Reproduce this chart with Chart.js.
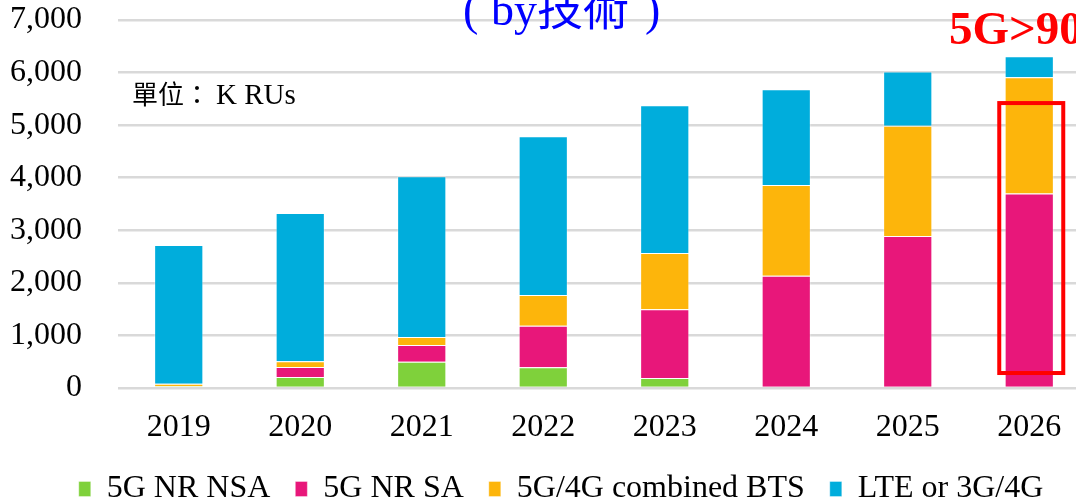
<!DOCTYPE html>
<html>
<head>
<meta charset="utf-8">
<script src="https://cdn.jsdelivr.net/npm/chart.js@4/dist/chart.umd.min.js"></script>
<style>
  html, body { margin: 0; padding: 0; background: #fff; overflow: hidden; }
  #wrap { width: 1090px; height: 500px; }
</style>
</head>
<body>
<div id="wrap"><canvas id="chart"></canvas></div>
<script>
const years = ['2019', '2020', '2021', '2022', '2023', '2024', '2025', '2026'];
const nrNsa = [35, 210, 500, 395, 190, 0, 0, 0];
const nrSa = [0, 190, 320, 790, 1310, 2135, 2890, 3700];
const combinedBts = [45, 110, 150, 585, 1070, 1725, 2100, 2210];
const lteOr3g4g = [2640, 2820, 3060, 3020, 2810, 1825, 1030, 400];
const yTicks = [0, 1000, 2000, 3000, 4000, 5000, 6000, 7000];

const serif = '"Liberation Serif", "Times New Roman", "Noto Sans CJK TC", serif';

// texts and red box on top of the chart
const notes = {
  id: 'notes',
  afterLayout(chart) {
    // legend in the original sits a bit right of centre
    chart.legend.left += 16;
    chart.legend.right += 16;
  },
  afterDraw(chart) {
    const ctx = chart.ctx;
    const x = chart.scales.x;
    const y = chart.scales.y;
    ctx.save();
    ctx.textBaseline = 'alphabetic';
    ctx.textAlign = 'left';

    ctx.fillStyle = '#0000ff';
    ctx.font = '46px ' + serif;
    ctx.fillText('(', 463, 25);
    ctx.fillText('by技術', 491, 25);
    ctx.fillText(')', 645, 25);

    ctx.fillStyle = '#ff0000';
    ctx.font = 'bold 47px ' + serif;
    ctx.fillText('5G>90%', 949, 44);

    ctx.fillStyle = '#000';
    ctx.font = '26px ' + serif;
    ctx.fillText('單位：', 132, 104);
    ctx.font = '29px ' + serif;
    ctx.fillText('K RUs', 216, 104);

    const cx = x.getPixelForValue(7);
    const top = y.getPixelForValue(5420);
    const bot = y.getPixelForValue(285);
    ctx.strokeStyle = '#ff0000';
    ctx.lineWidth = 4;
    ctx.strokeRect(cx - 30, top, 64, bot - top);
    ctx.restore();
  }
};

const edge = 'rgba(255,255,255,0.35)';

new Chart(document.getElementById('chart'), {
  type: 'bar',
  data: {
    labels: years,
    datasets: [
      { label: '5G NR NSA', data: nrNsa, backgroundColor: '#7fd13b', borderColor: edge, borderWidth: 1 },
      { label: '5G NR SA', data: nrSa, backgroundColor: '#e8177a', borderColor: edge, borderWidth: 1 },
      { label: '5G/4G combined BTS', data: combinedBts, backgroundColor: '#fdb50b', borderColor: edge, borderWidth: 1 },
      { label: 'LTE or 3G/4G', data: lteOr3g4g, backgroundColor: '#00addc', borderColor: edge, borderWidth: 1 }
    ]
  },
  options: {
    responsive: true,
    maintainAspectRatio: false,
    animation: false,
    layout: { padding: { left: 0, right: 0, top: 20, bottom: -15 } },
    datasets: { bar: { categoryPercentage: 1, barPercentage: 0.405 } },
    plugins: {
      tooltip: { enabled: false },
      legend: {
        position: 'bottom',
        labels: {
          font: { family: serif, size: 32 },
          color: '#000',
          boxWidth: 12,
          boxHeight: 15,
          padding: 25
        }
      }
    },
    scales: {
      x: {
        stacked: true,
        grid: { display: false },
        border: { display: false },
        ticks: { font: { family: serif, size: 32 }, color: '#000', padding: 12 },
        afterFit: axis => { axis.height = 60; }
      },
      y: {
        stacked: true,
        min: 0,
        max: 7000,
        afterBuildTicks: axis => { axis.ticks = yTicks.map(v => ({ value: v })); },
        afterFit: axis => { axis.width = 118; axis.paddingTop = 0; axis.paddingBottom = 0; },
        grid: { color: '#d9d9d9', lineWidth: 2.5, drawTicks: false },
        border: { display: false },
        ticks: {
          font: { family: serif, size: 32 },
          color: '#000',
          padding: 36,
          callback: v => v.toLocaleString('en-US')
        }
      }
    }
  },
  plugins: [notes]
});
</script>
</body>
</html>
